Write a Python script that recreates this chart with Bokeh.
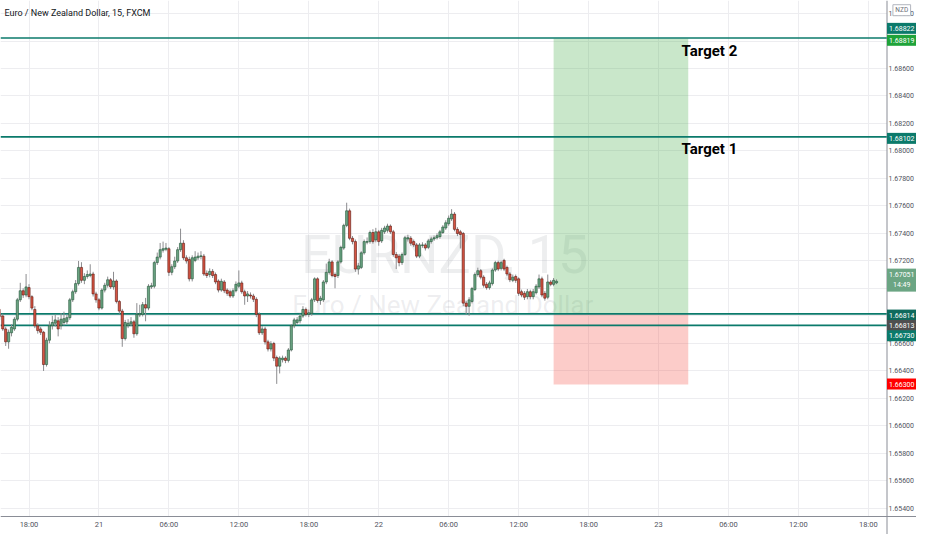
import numpy as np
from bokeh.plotting import figure
from bokeh.models import Range1d, FixedTicker, PrintfTickFormatter, Span
from bokeh.core.properties import value
from bokeh.embed import file_html
from bokeh.resources import INLINE

# ---------------- data (EUR/NZD, 15 min, FXCM) ----------------
opens = [1.66846, 1.66806, 1.66798, 1.66704, 1.66610, 1.66676, 1.66704, 1.66775, 1.66916, 1.66982,
         1.66951, 1.67005, 1.66939, 1.66846, 1.66727, 1.66704, 1.66680, 1.66445, 1.66622, 1.66727,
         1.66746, 1.66763, 1.66727, 1.66751, 1.66756, 1.66786, 1.66916, 1.66975, 1.67034, 1.67152,
         1.67058, 1.67086, 1.67093, 1.67104, 1.66959, 1.66916, 1.66856, 1.66987, 1.67022, 1.67062,
         1.67010, 1.67053, 1.66904, 1.66834, 1.66634, 1.66727, 1.66741, 1.66756, 1.66669, 1.66806,
         1.66810, 1.66881, 1.66856, 1.67010, 1.67015, 1.67187, 1.67227, 1.67277, 1.67284, 1.67288,
         1.67116, 1.67157, 1.67199, 1.67281, 1.67328, 1.67222, 1.67210, 1.67069, 1.67203, 1.67222,
         1.67231, 1.67234, 1.67109, 1.67100, 1.67123, 1.67100, 1.67053, 1.66987, 1.67046, 1.66987,
         1.66975, 1.66944, 1.66982, 1.67015, 1.67039, 1.66975, 1.66944, 1.66951, 1.66944, 1.66920,
         1.66810, 1.66676, 1.66704, 1.66610, 1.66558, 1.66598, 1.66496, 1.66433, 1.66480, 1.66492,
         1.66475, 1.66551, 1.66727, 1.66751, 1.66763, 1.66798, 1.66846, 1.66810, 1.66817, 1.66916,
         1.67069, 1.66911, 1.66916, 1.67046, 1.67116, 1.67192, 1.67100, 1.67093, 1.67192, 1.67293,
         1.67458, 1.67564, 1.67364, 1.67340, 1.67140, 1.67152, 1.67258, 1.67335, 1.67340, 1.67406,
         1.67352, 1.67411, 1.67345, 1.67411, 1.67422, 1.67453, 1.67411, 1.67246, 1.67234, 1.67187,
         1.67246, 1.67359, 1.67364, 1.67340, 1.67316, 1.67234, 1.67312, 1.67316, 1.67298, 1.67340,
         1.67359, 1.67368, 1.67376, 1.67406, 1.67439, 1.67470, 1.67505, 1.67540, 1.67429, 1.67411,
         1.67399, 1.66892, 1.66869, 1.66904, 1.66991, 1.67100, 1.67128, 1.67081, 1.67029, 1.67005,
         1.67034, 1.67133, 1.67187, 1.67145, 1.67203, 1.67152, 1.67104, 1.67058, 1.67086, 1.67069,
         1.66975, 1.66963, 1.66939, 1.66975, 1.66939, 1.66968, 1.67010, 1.67069, 1.66963, 1.66935,
         1.67046, 1.67029, 1.67039]
closes = [1.66806, 1.66793, 1.66704, 1.66610, 1.66680, 1.66716, 1.66775, 1.66916, 1.66982, 1.66951,
          1.67010, 1.66939, 1.66856, 1.66727, 1.66692, 1.66680, 1.66445, 1.66622, 1.66727, 1.66751,
          1.66770, 1.66704, 1.66775, 1.66779, 1.66786, 1.66916, 1.66975, 1.67034, 1.67152, 1.67058,
          1.67086, 1.67100, 1.67104, 1.66959, 1.66916, 1.66856, 1.66987, 1.67022, 1.67062, 1.67010,
          1.67053, 1.66904, 1.66834, 1.66634, 1.66751, 1.66746, 1.66756, 1.66669, 1.66810, 1.66815,
          1.66881, 1.66856, 1.67015, 1.67019, 1.67187, 1.67227, 1.67281, 1.67288, 1.67293, 1.67116,
          1.67157, 1.67199, 1.67281, 1.67328, 1.67222, 1.67199, 1.67069, 1.67222, 1.67227, 1.67234,
          1.67236, 1.67104, 1.67093, 1.67123, 1.67093, 1.67046, 1.66987, 1.67051, 1.66982, 1.66963,
          1.66944, 1.66982, 1.67029, 1.67039, 1.66975, 1.66944, 1.66959, 1.66944, 1.66920, 1.66810,
          1.66676, 1.66704, 1.66610, 1.66558, 1.66596, 1.66492, 1.66433, 1.66492, 1.66492, 1.66475,
          1.66551, 1.66727, 1.66770, 1.66770, 1.66798, 1.66846, 1.66810, 1.66822, 1.66916, 1.67069,
          1.66911, 1.66928, 1.67046, 1.67116, 1.67192, 1.67093, 1.67086, 1.67192, 1.67298, 1.67458,
          1.67564, 1.67364, 1.67340, 1.67140, 1.67163, 1.67258, 1.67340, 1.67340, 1.67406, 1.67340,
          1.67411, 1.67340, 1.67422, 1.67439, 1.67453, 1.67411, 1.67246, 1.67222, 1.67187, 1.67246,
          1.67368, 1.67368, 1.67328, 1.67316, 1.67234, 1.67316, 1.67316, 1.67293, 1.67345, 1.67359,
          1.67368, 1.67383, 1.67411, 1.67446, 1.67477, 1.67510, 1.67540, 1.67429, 1.67399, 1.67392,
          1.66892, 1.66869, 1.66916, 1.66998, 1.67100, 1.67128, 1.67081, 1.67022, 1.67005, 1.67039,
          1.67133, 1.67187, 1.67140, 1.67187, 1.67140, 1.67104, 1.67062, 1.67081, 1.67058, 1.66963,
          1.66951, 1.66935, 1.66975, 1.66939, 1.66975, 1.67015, 1.67069, 1.66951, 1.66928, 1.67046,
          1.67029, 1.67058, 1.67051]
highs = [1.66875, 1.66830, 1.66815, 1.66720, 1.66700, 1.66740, 1.66790, 1.66930, 1.67040, 1.67000,
         1.67104, 1.67030, 1.66950, 1.66870, 1.66745, 1.66720, 1.66690, 1.66640, 1.66760, 1.66800,
         1.66810, 1.66790, 1.66820, 1.66830, 1.66810, 1.66930, 1.66990, 1.67060, 1.67199, 1.67190,
         1.67110, 1.67130, 1.67175, 1.67120, 1.66975, 1.66930, 1.67000, 1.67040, 1.67085, 1.67075,
         1.67120, 1.67065, 1.66915, 1.66850, 1.66770, 1.66775, 1.66790, 1.66770, 1.66892, 1.66880,
         1.66900, 1.66930, 1.67030, 1.67040, 1.67200, 1.67260, 1.67330, 1.67340, 1.67330, 1.67300,
         1.67175, 1.67230, 1.67300, 1.67434, 1.67350, 1.67240, 1.67230, 1.67240, 1.67270, 1.67260,
         1.67270, 1.67250, 1.67130, 1.67145, 1.67140, 1.67115, 1.67065, 1.67070, 1.67060, 1.67000,
         1.66990, 1.67000, 1.67050, 1.67130, 1.67055, 1.66990, 1.66980, 1.66970, 1.66960, 1.66935,
         1.66825, 1.66725, 1.66720, 1.66625, 1.66615, 1.66610, 1.66510, 1.66505, 1.66510, 1.66505,
         1.66565, 1.66740, 1.66785, 1.66790, 1.66815, 1.66870, 1.66860, 1.66845, 1.66930, 1.67080,
         1.67080, 1.66945, 1.67060, 1.67180, 1.67215, 1.67205, 1.67115, 1.67205, 1.67310, 1.67470,
         1.67623, 1.67580, 1.67380, 1.67355, 1.67185, 1.67270, 1.67355, 1.67370, 1.67420, 1.67430,
         1.67440, 1.67425, 1.67440, 1.67455, 1.67470, 1.67465, 1.67425, 1.67265, 1.67250, 1.67260,
         1.67380, 1.67390, 1.67380, 1.67355, 1.67330, 1.67330, 1.67335, 1.67330, 1.67360, 1.67375,
         1.67385, 1.67400, 1.67425, 1.67460, 1.67495, 1.67530, 1.67576, 1.67555, 1.67445, 1.67425,
         1.67410, 1.66910, 1.66935, 1.67010, 1.67115, 1.67150, 1.67140, 1.67095, 1.67045, 1.67055,
         1.67145, 1.67200, 1.67200, 1.67200, 1.67215, 1.67165, 1.67118, 1.67100, 1.67100, 1.67080,
         1.66990, 1.66980, 1.66995, 1.66990, 1.66995, 1.67030, 1.67100, 1.67085, 1.66980, 1.67100,
         1.67060, 1.67075, 1.67065]
lows = [1.66790, 1.66770, 1.66690, 1.66580, 1.66560, 1.66650, 1.66690, 1.66760, 1.66900, 1.66930,
        1.66935, 1.66920, 1.66840, 1.66710, 1.66670, 1.66660, 1.66398, 1.66430, 1.66600, 1.66700,
        1.66720, 1.66650, 1.66700, 1.66730, 1.66740, 1.66770, 1.66900, 1.66960, 1.67020, 1.67040,
        1.67030, 1.67070, 1.67080, 1.66940, 1.66895, 1.66840, 1.66845, 1.66970, 1.67005, 1.66995,
        1.66990, 1.66890, 1.66815, 1.66574, 1.66620, 1.66710, 1.66725, 1.66640, 1.66655, 1.66790,
        1.66795, 1.66760, 1.66840, 1.66995, 1.67000, 1.67170, 1.67210, 1.67260, 1.67270, 1.67090,
        1.67095, 1.67140, 1.67185, 1.67265, 1.67205, 1.67180, 1.67050, 1.67050, 1.67190, 1.67205,
        1.67210, 1.67090, 1.67075, 1.67080, 1.67075, 1.67030, 1.66970, 1.66975, 1.66965, 1.66945,
        1.66930, 1.66930, 1.66970, 1.67000, 1.66960, 1.66880, 1.66900, 1.66925, 1.66900, 1.66790,
        1.66660, 1.66660, 1.66590, 1.66540, 1.66540, 1.66470, 1.66304, 1.66380, 1.66460, 1.66455,
        1.66460, 1.66540, 1.66710, 1.66735, 1.66745, 1.66785, 1.66795, 1.66790, 1.66800, 1.66900,
        1.66895, 1.66880, 1.66900, 1.67030, 1.67100, 1.67080, 1.67000, 1.67075, 1.67180, 1.67280,
        1.67445, 1.67350, 1.67320, 1.67120, 1.67100, 1.67140, 1.67245, 1.67320, 1.67325, 1.67325,
        1.67335, 1.67310, 1.67330, 1.67395, 1.67405, 1.67395, 1.67230, 1.67140, 1.67160, 1.67170,
        1.67235, 1.67340, 1.67310, 1.67300, 1.67220, 1.67220, 1.67295, 1.67275, 1.67285, 1.67325,
        1.67345, 1.67355, 1.67360, 1.67395, 1.67425, 1.67455, 1.67490, 1.67415, 1.67380, 1.67290,
        1.66870, 1.66810, 1.66800, 1.66890, 1.66980, 1.67085, 1.67065, 1.67005, 1.66990, 1.66990,
        1.67020, 1.67120, 1.67125, 1.67130, 1.67125, 1.67090, 1.67045, 1.67045, 1.67040, 1.66945,
        1.66935, 1.66915, 1.66920, 1.66920, 1.66920, 1.66955, 1.66995, 1.66935, 1.66910, 1.66920,
        1.67015, 1.67015, 1.67030]
first_bar_hour = 15.25      # hours after 20th 00:00
bar_hours = 0.25            # 15-minute bars

time_ticks = [18, 24, 30, 36, 42, 48, 54, 60, 66, 72, 78, 84, 90]
time_labels = ["18:00", "21", "06:00", "12:00", "18:00", "22", "06:00", "12:00",
               "18:00", "23", "06:00", "12:00", "18:00"]
price_ticks = [1.654, 1.656, 1.658, 1.660, 1.662, 1.664, 1.666, 1.668, 1.670, 1.672,
               1.674, 1.676, 1.678, 1.680, 1.682, 1.684, 1.686, 1.688, 1.690]

level_lines = [1.68822, 1.68102, 1.66814, 1.66730]
entry_price = 1.66814
stop_price = 1.66300
target_price = 1.68819
position_start = 63.0
position_end = 74.55
last_price = "1.67051"
countdown = "14:49"

price_tags = ["1.68822", "1.68819", "1.68102", last_price + "\n" + countdown,
              "1.66814", "1.66813", "1.66730", "1.66300"]
quote_currency = "NZD"

# ---------------- layout helpers ----------------
W, H = 916, 534
X0, X1 = 15.555, 91.60          # time span of the chart pane (reference px 0..902)
Y0, Y1 = 1.65342, 1.69095       # price span of the chart pane (reference px 531..0)
REF_FW, REF_FH = 902.0, 531.0


def x_at(px):
    return X0 + px * (X1 - X0) / REF_FW


def y_at(px):
    return Y1 - px * (Y1 - Y0) / REF_FH


XEND = x_at(932)     # right edge incl. price scale strip
YEND = y_at(550)     # bottom edge incl. time scale strip

AX_FONT = "Roboto"

p = figure(width=W, height=H, output_backend="svg", toolbar_location=None,
           x_range=Range1d(X0, XEND), y_range=Range1d(YEND, Y1),
           y_axis_location="right", min_border=0)
p.outline_line_color = None
p.background_fill_color = "white"
p.border_fill_color = "white"

p.xaxis.ticker = FixedTicker(ticks=time_ticks)
p.xaxis.major_label_overrides = {tk: lb for tk, lb in zip(time_ticks, time_labels)}
p.yaxis.ticker = FixedTicker(ticks=price_ticks)
p.yaxis.formatter = PrintfTickFormatter(format="%.5f")
for ax in (p.xaxis[0], p.yaxis[0]):
    ax.axis_label = None
    ax.major_tick_line_color = None
    ax.minor_tick_line_color = None
    ax.major_tick_out = 0
    ax.major_tick_in = 0
    ax.minor_tick_out = 0
    ax.minor_tick_in = 0
    ax.major_label_text_font = AX_FONT
    ax.major_label_text_color = "#50535e"
p.xaxis.major_label_text_font_size = "7.5px"
p.yaxis.major_label_text_font_size = "7px"
p.xaxis.fixed_location = Y0
p.xaxis.axis_line_color = "#8a8d96"
p.xaxis.major_label_standoff = 4
p.yaxis.fixed_location = XEND
p.yaxis.axis_line_color = None
p.yaxis.major_label_standoff = -28
p.xgrid.grid_line_color = "#ededf0"
p.ygrid.grid_line_color = "#ededf0"

# watermark
p.text(x=[x_at(452)], y=[y_at(262)], text=["EURNZD, 15"], text_align="center",
       text_baseline="alphabetic", text_font=value(AX_FONT), text_font_size="54px",
       text_color="#9598a1", text_alpha=0.17)
p.text(x=[x_at(450)], y=[y_at(314)], text=["Euro / New Zealand Dollar"], text_align="center",
       text_baseline="alphabetic", text_font=value(AX_FONT), text_font_size="26px",
       text_color="#9598a1", text_alpha=0.17)

# long position boxes
p.quad(left=[position_start], right=[position_end], bottom=[entry_price], top=[target_price],
       fill_color="#4caf50", fill_alpha=0.3, line_color=None)
p.quad(left=[position_start], right=[position_end], bottom=[stop_price], top=[entry_price],
       fill_color="#f44336", fill_alpha=0.27, line_color=None)

# horizontal levels (stop at the price scale)
p.segment(x0=[X0] * len(level_lines), x1=[X1] * len(level_lines), y0=level_lines,
          y1=level_lines, line_color="#0b7a6b", line_width=1.6)

# candles
t = first_bar_hour + bar_hours * np.arange(len(closes))
o = np.array(opens); c = np.array(closes); hi = np.array(highs); lo = np.array(lows)
up = c >= o
p.segment(x0=t, y0=hi, x1=t, y1=lo, line_color="#8c8c8f", line_width=1)
p.vbar(x=t[up], width=0.19, top=c[up], bottom=o[up], fill_color="#6ba583",
       line_color="#225437", line_width=0.6)
p.vbar(x=t[~up], width=0.19, top=o[~up], bottom=c[~up], fill_color="#d75442",
       line_color="#5b1a13", line_width=0.6)

# target texts
p.text(x=[x_at(693), x_at(693)], y=[y_at(52), y_at(152.5)], text=["Target 2", "Target 1"],
       text_align="left", text_baseline="alphabetic", text_font=value(AX_FONT),
       text_font_style="bold", text_font_size="15px", text_color="#000000")

# title
p.text(x=[x_at(4)], y=[y_at(13)], text=["Euro / New Zealand Dollar, 15, FXCM"],
       text_align="left", text_baseline="middle", text_font=value(AX_FONT),
       text_font_size="9px", text_color="#131722")

# time scale strip and price scale strip backgrounds
p.quad(left=[X0], right=[XEND], bottom=[YEND], top=[Y0], fill_color="white", line_color=None)
p.quad(left=[X1], right=[XEND], bottom=[YEND], top=[Y1], fill_color="white", line_color=None)
p.add_layout(Span(location=X1, dimension="height", line_color="#8a8d96", line_width=1))

tag_colors = ["#0b7a6b", "#1fa33a", "#0b7a6b", "#6ba583", "#0f6a5d", "#4f4f4f", "#0b7a6b", "#ff0000"]
tag_px = [28.7, 41, 142, 288, 324, 334.7, 345.3, 395]
tag_h = [11, 11, 11, 23, 11, 11, 11, 11]
xm = (X1 + XEND) / 2
tags_r = p.rect(x=[xm] * len(price_tags), y=[y_at(v) for v in tag_px], width=XEND - X1,
                height=tag_h, height_units="screen", fill_color=tag_colors, line_color=None)
tags_r.level = "overlay"
tags_t = p.text(x=[xm] * len(price_tags), y=[y_at(v) for v in tag_px], text=price_tags,
                text_align="center", text_baseline="middle", text_font=value(AX_FONT),
                text_font_size="7px", text_color="white", text_line_height=1.3)
tags_t.level = "overlay"

cur_r = p.rect(x=[x_at(917)], y=[y_at(10)], width=x_at(926) - x_at(908), height=11,
               height_units="screen", fill_color="white", line_color="#b2b5be", line_width=1)
cur_r.level = "overlay"
cur_t = p.text(x=[x_at(917)], y=[y_at(10)], text=[quote_currency], text_align="center",
               text_baseline="middle", text_font=value(AX_FONT), text_font_size="6.5px",
               text_color="#6a6d78")
cur_t.level = "overlay"

open("out.html", "w").write(file_html(p, INLINE))
